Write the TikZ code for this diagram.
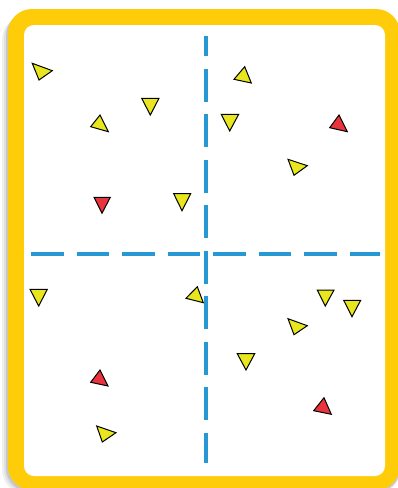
\documentclass[tikz,border=0pt]{standalone}
\definecolor{frameyellow}{RGB}{255,204,10}
\definecolor{triyellow}{RGB}{232,230,30}
\definecolor{trired}{RGB}{232,52,60}
\definecolor{dashblue}{RGB}{38,152,212}
\tikzset{
  ytri/.style={fill=triyellow,draw=black,line width=1pt,line join=miter},
  rtri/.style={fill=trired,draw=black,line width=1pt,line join=miter},
  divider/.style={draw=dashblue,line width=4pt}
}
\begin{document}
\begin{tikzpicture}[x=1pt,y=-1pt]
\useasboundingbox (0,0) rectangle (398,488);
\clip (0,0) rectangle (398,488);
% shadow
\fill[black!6,rounded corners=24pt] (2,16) rectangle (400,494);
\fill[black!12,rounded corners=24pt] (4,14) rectangle (400,493);
\fill[black!22,rounded corners=24pt] (6,12) rectangle (400,492);
% frame
\fill[frameyellow,rounded corners=24pt] (8,9) rectangle (400,490);
\fill[white,rounded corners=10pt] (24,25) rectangle (385,476);
% dividers
\draw[divider,dash pattern=on 33pt off 12.5pt,dash phase=13pt] (206,36) -- (206,463);
\draw[divider,dash pattern=on 32.5pt off 13pt] (31,254) -- (380,254);
% triangles
\draw[ytri] (32.3,63.3) -- (52.3,70.7) -- (39,80) -- cycle;
\draw[ytri] (100,115) -- (90.7,126.7) -- (108.3,131.7) -- cycle;
\draw[ytri] (141.7,98.3) -- (159,98.3) -- (150.3,115) -- cycle;
\draw[rtri] (94,197.3) -- (110.3,197.3) -- (102,213.3) -- cycle;
\draw[ytri] (173.7,193.7) -- (190.7,193.7) -- (182,210.7) -- cycle;
\draw[ytri] (244.7,66.7) -- (234,79.3) -- (251.3,83) -- cycle;
\draw[ytri] (221.3,114.3) -- (238.7,114.3) -- (229.7,131) -- cycle;
\draw[rtri] (339,115) -- (329.7,127.7) -- (347.3,131.7) -- cycle;
\draw[ytri] (288,159.3) -- (307.3,165.7) -- (294,175.3) -- cycle;
\draw[ytri] (30,289.3) -- (47.3,289.3) -- (38.7,306) -- cycle;
\draw[ytri] (197.3,286.7) -- (186,298.3) -- (203.3,302.7) -- cycle;
\draw[rtri] (100,370) -- (90.7,382.3) -- (108,386) -- cycle;
\draw[ytri] (96.7,426) -- (116,432.7) -- (102.3,442) -- cycle;
\draw[ytri] (317.3,290) -- (334,290) -- (325.3,306) -- cycle;
\draw[ytri] (343.7,300.3) -- (360.7,300.3) -- (352,316.7) -- cycle;
\draw[ytri] (288,318.7) -- (307.3,325.7) -- (294,334.7) -- cycle;
\draw[ytri] (237.3,353.7) -- (254.7,353.7) -- (246,370) -- cycle;
\draw[rtri] (324,397.7) -- (313.7,410.7) -- (331.3,414.3) -- cycle;
\end{tikzpicture}
\end{document}
